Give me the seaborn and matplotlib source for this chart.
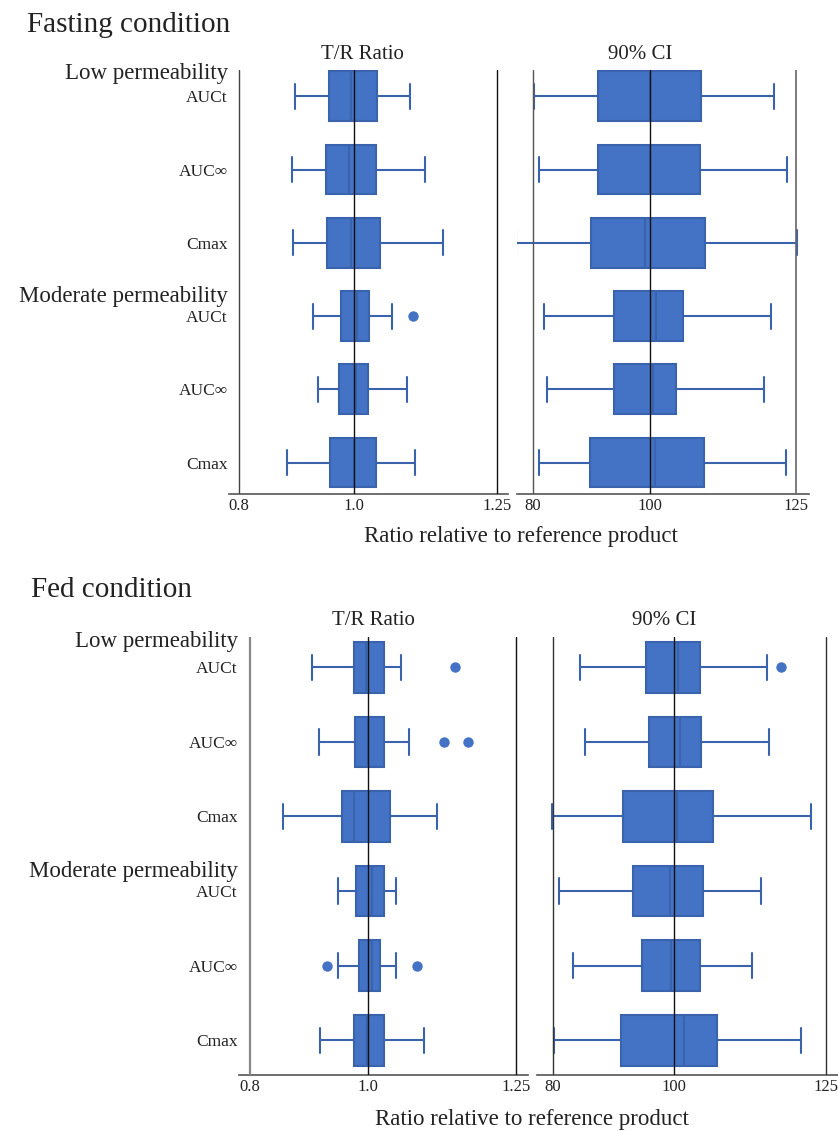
import numpy as np
import pandas as pd
import matplotlib.pyplot as plt
import seaborn as sns

# ---- data ----
row_ids = ["low_auct", "low_aucinf", "low_cmax", "mod_auct", "mod_aucinf", "mod_cmax"]
metric_labels = ["AUCt", "AUC∞", "Cmax", "AUCt", "AUC∞", "Cmax"]
group_labels = ["Low permeability", "Moderate permeability"]

tr_ticks = [0.8, 1.0, 1.25]
tr_ticklabels = ["0.8", "1.0", "1.25"]
ci_ticks = [80, 100, 125]
ci_ticklabels = ["80", "100", "125"]

# each row: whisker low, Q1, median, Q3, whisker high
fast_tr = [
    [0.897, 0.957, 0.995, 1.040, 1.097],
    [0.892, 0.951, 0.991, 1.039, 1.123],
    [0.894, 0.953, 0.995, 1.045, 1.155],
    [0.929, 0.977, 1.006, 1.027, 1.066],
    [0.937, 0.974, 1.003, 1.025, 1.092],
    [0.883, 0.959, 1.000, 1.039, 1.106],
]
fast_tr_fliers = [("mod_auct", 1.103)]

fast_ci = [
    [80.3, 91.2, 100.0, 108.8, 121.3],
    [81.0, 91.1, 100.0, 108.7, 123.5],
    [77.1, 89.9, 99.3, 109.5, 125.2],
    [81.9, 93.9, 101.1, 105.7, 120.7],
    [82.5, 93.9, 100.6, 104.5, 119.5],
    [81.1, 89.8, 101.0, 109.3, 123.3],
]
fast_ci_fliers = []

fed_tr = [
    [0.905, 0.975, 0.996, 1.026, 1.056],
    [0.917, 0.977, 0.999, 1.027, 1.069],
    [0.855, 0.955, 0.976, 1.037, 1.116],
    [0.949, 0.979, 1.007, 1.027, 1.046],
    [0.949, 0.985, 1.007, 1.019, 1.047],
    [0.919, 0.976, 0.997, 1.027, 1.094],
]
fed_tr_fliers = [("low_auct", 1.146), ("low_aucinf", 1.128), ("low_aucinf", 1.169),
                 ("mod_aucinf", 0.930), ("mod_aucinf", 1.083)]

fed_ci = [
    [84.5, 95.4, 100.7, 104.2, 115.4],
    [85.4, 95.8, 101.0, 104.4, 115.7],
    [79.9, 91.6, 100.5, 106.4, 122.5],
    [81.1, 93.3, 99.3, 104.7, 114.3],
    [83.3, 94.7, 99.5, 104.3, 112.9],
    [80.2, 91.3, 101.7, 107.1, 121.0],
]
fed_ci_fliers = [("low_auct", 117.6)]

BLUE = "#4472C4"
EDGE = "#3A63AE"
TXT = "#222222"
W, H = 838, 1131

sns.set_theme(style="white")
plt.rcParams['font.family'] = ['Liberation Serif', 'DejaVu Serif']

fig = plt.figure(figsize=(W / 100, H / 100), dpi=100)


def px_axes(left, top, right, bottom):
    return fig.add_axes([left / W, 1 - bottom / H, (right - left) / W, (bottom - top) / H])


def draw_panel(ax, stats, fliers, xlim, ylim, ticks, ticklabels, refs):
    df = pd.DataFrame([(r, v) for r, vals in zip(row_ids, stats) for v in vals],
                      columns=["row", "value"])
    sns.boxplot(data=df, x="value", y="row", order=row_ids, orient="h",
                whis=(0, 100), width=0.68, color=BLUE, linecolor=EDGE,
                linewidth=1.5, saturation=1, fliersize=0, ax=ax)
    if fliers:
        fl = pd.DataFrame(fliers, columns=["row", "value"])
        sns.stripplot(data=fl, x="value", y="row", order=row_ids, orient="h",
                      jitter=False, color=BLUE, size=7.5, linewidth=0, ax=ax)
    for x, c, lw in refs:
        ax.axvline(x, color=c, lw=lw, zorder=6)
    ax.set_xlim(*xlim)
    ax.set_ylim(*ylim)
    ax.set_xticks(ticks)
    ax.set_xticklabels(ticklabels, fontsize=12, color=TXT)
    ax.tick_params(axis="x", length=0, pad=3)
    ax.set_xlabel("")
    ax.set_ylabel("")
    sns.despine(ax=ax, left=True)
    ax.spines["bottom"].set_color("#555555")
    ax.spines["bottom"].set_linewidth(1.2)


def ftext(x, y, s, **kw):
    fig.text(x / W, 1 - y / H, s, color=TXT, **kw)


# ---- Fasting condition ----
ax1 = px_axes(229, 70, 508, 494)
draw_panel(ax1, fast_tr, fast_tr_fliers, (0.7826, 1.2683), (5.43, -0.36),
           tr_ticks, tr_ticklabels,
           [(0.8, "#444444", 1.0), (1.0, "#111111", 1.0), (1.25, "#111111", 1.0)])
ax2 = px_axes(516.7, 70, 809, 494)
draw_panel(ax2, fast_ci, fast_ci_fliers, (77.26, 127.28), (5.43, -0.36),
           ci_ticks, ci_ticklabels,
           [(80, "#555555", 1.0), (100, "#111111", 1.0), (125, "#666666", 1.2)])

# ---- Fed condition ----
ax3 = px_axes(239.3, 636.7, 528.3, 1075.3)
draw_panel(ax3, fed_tr, fed_tr_fliers, (0.7819, 1.2703), (5.47, -0.41),
           tr_ticks, tr_ticklabels,
           [(0.8, "#888888", 1.6), (1.0, "#111111", 1.0), (1.25, "#111111", 1.0)])
ax4 = px_axes(537.3, 636.7, 837.7, 1075.3)
draw_panel(ax4, fed_ci, fed_ci_fliers, (77.46, 126.98), (5.47, -0.41),
           ci_ticks, ci_ticklabels,
           [(80, "#333333", 1.0), (100, "#111111", 1.0), (125, "#333333", 1.0)])

for ax in (ax1, ax3):
    ax.set_yticks(range(len(row_ids)))
    ax.set_yticklabels(metric_labels, fontsize=12.5, color=TXT)
    ax.tick_params(axis="y", length=0, pad=1)
for ax in (ax2, ax4):
    ax.set_yticks([])

# group headings, section titles, panel titles, axis labels
ftext(228, 79, group_labels[0], fontsize=16.5, ha="right", va="baseline")
ftext(228, 301.7, group_labels[1], fontsize=16.5, ha="right", va="baseline")
ftext(238, 647, group_labels[0], fontsize=16.5, ha="right", va="baseline")
ftext(238, 877, group_labels[1], fontsize=16.5, ha="right", va="baseline")

ftext(27, 32.3, "Fasting condition", fontsize=21, ha="left", va="baseline")
ftext(31, 597, "Fed condition", fontsize=21, ha="left", va="baseline")

ftext(362.5, 59, "T/R Ratio", fontsize=15, ha="center", va="baseline")
ftext(640.5, 59, "90% CI", fontsize=15, ha="center", va="baseline")
ftext(373, 625, "T/R Ratio", fontsize=15, ha="center", va="baseline")
ftext(664, 625, "90% CI", fontsize=15, ha="center", va="baseline")

ftext(520.5, 541.7, "Ratio relative to reference product", fontsize=16.5, ha="center", va="baseline")
ftext(531.7, 1125, "Ratio relative to reference product", fontsize=16.5, ha="center", va="baseline")

fig.savefig("out.png", dpi=100, facecolor="white")
